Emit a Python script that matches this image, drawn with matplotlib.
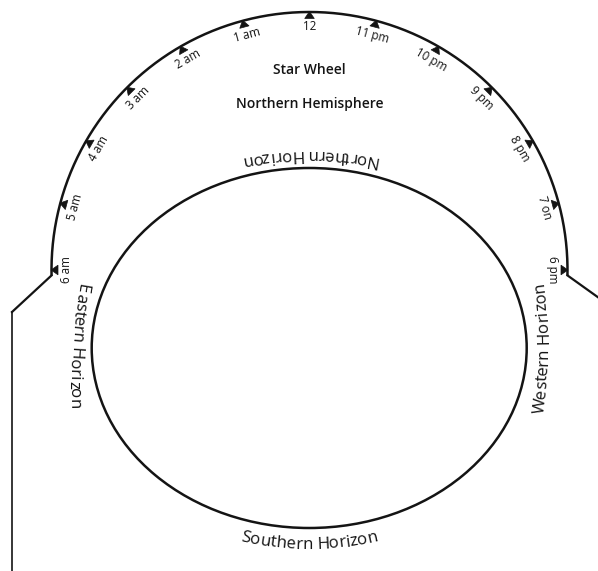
import numpy as np
import matplotlib
matplotlib.use("Agg")
import matplotlib.pyplot as plt
from matplotlib.patches import Ellipse, Polygon
from matplotlib.font_manager import FontProperties, findfont, get_font

# ---------------- data ----------------
hour_labels = ["6 am", "5 am", "4 am", "3 am", "2 am", "1 am", "12",
               "11 pm", "10 pm", "9 pm", "8 pm", "7 on", "6 pm"]
hour_angles = [180, 165, 150, 135, 120, 105, 90, 75, 60, 45, 30, 15, 0]

title_lines = ["Star Wheel", "Northern Hemisphere"]

horizon_names = ["Northern Horizon", "Southern Horizon", "Eastern Horizon", "Western Horizon"]

# ---------------- geometry / style ----------------
W, H = 598, 571
INK = "#141414"
FAMILY = "Open Sans"

ARC_C = (309.5, 270.0)
ARC_R = 258.0
ARC_SPAN = (-1.2, 181.2)

ELL_C = (309.2, 348.0)
ELL_A, ELL_B = 217.5, 180.0

fig = plt.figure(figsize=(W / 100, H / 100), dpi=100)
ax = fig.add_axes([0, 0, 1, 1])
ax.set_xlim(0, W)
ax.set_ylim(H, 0)
ax.axis("off")


def on_arc(theta_deg, r):
    t = np.radians(theta_deg)
    return ARC_C[0] + r * np.cos(t), ARC_C[1] - r * np.sin(t)


# outer arc
th = np.linspace(ARC_SPAN[0], ARC_SPAN[1], 600)
ax_x, ax_y = on_arc(th, ARC_R)
ax.plot(ax_x, ax_y, color=INK, lw=1.8, solid_capstyle="butt", solid_joinstyle="miter")

# side lines
lx, ly = on_arc(ARC_SPAN[1], ARC_R)
ax.plot([lx, 12], [ly, 312], color=INK, lw=1.6, solid_joinstyle="miter")
ax.plot([12, 12], [312, H + 5], color=INK, lw=1.2)
rx, ry = on_arc(ARC_SPAN[0], ARC_R)
ax.plot([rx, 620], [ry, 313], color=INK, lw=1.6, solid_joinstyle="miter")

# inner ellipse
ax.add_patch(Ellipse(ELL_C, 2 * ELL_A, 2 * ELL_B, fill=False, ec=INK, lw=1.8))

# hour ticks (triangles) and labels
for lab, ang in zip(hour_labels, hour_angles):
    t = np.radians(ang)
    tang = np.array([-np.sin(t), -np.cos(t)])  # tangent in data (y-down) coords
    apex = np.array(on_arc(ang, ARC_R + 0.5))
    base_c = np.array(on_arc(ang, ARC_R - 6.5))
    verts = [apex, base_c + 4.8 * tang, base_c - 4.8 * tang]
    ax.add_patch(Polygon(verts, closed=True, fc=INK, ec=INK, lw=0.5))
    bx, by = on_arc(ang, 239.5)
    ax.text(bx, by, lab, rotation=ang - 90, rotation_mode="anchor",
            ha="center", va="baseline", fontsize=8.4, family=FAMILY, color=INK)

# title
ax.text(309.5, 74, title_lines[0], ha="center", va="baseline", fontsize=10,
        family=FAMILY, fontweight="semibold", color=INK)
ax.text(309.5, 108, title_lines[1], ha="center", va="baseline", fontsize=10,
        family=FAMILY, fontweight="semibold", color=INK)


# curved horizon labels
def advances(s, size):
    fp = FontProperties(family=FAMILY, size=size)
    font = get_font(findfont(fp))
    font.set_size(size, 100)
    out = []
    for c in s:
        g = font.load_char(ord(c))
        out.append(g.linearHoriAdvance / 65536.0)
    return out


def curved_text(s, mid, up_deg, R, size):
    adv = advances(s, size)
    total = sum(adv)
    cum = np.cumsum([0] + adv[:-1])
    u = np.radians(up_deg)
    # centre of curvature (data coords, y-down)
    cx = mid[0] + R * np.cos(u)
    cy = mid[1] - R * np.sin(u)
    a0 = up_deg + 180.0
    for c, c0, w in zip(s, cum, adv):
        sc = c0 + w / 2 - total / 2
        a = a0 + np.degrees(sc / R)
        ar = np.radians(a)
        x = cx + R * np.cos(ar)
        y = cy - R * np.sin(ar)
        ax.text(x, y, c, rotation=a + 90, rotation_mode="anchor",
                ha="center", va="baseline", fontsize=size, family=FAMILY, color=INK)


HSIZE = 12.2
curved_text(horizon_names[0], (309.5, 150), -90, 340, HSIZE)
curved_text(horizon_names[1], (309.5, 549), 90, 285, HSIZE)
curved_text(horizon_names[2], (71, 346), -4, 600, HSIZE)
curved_text(horizon_names[3], (548, 348), 180, 500, HSIZE)

fig.savefig("out.png", dpi=100, facecolor="white")
